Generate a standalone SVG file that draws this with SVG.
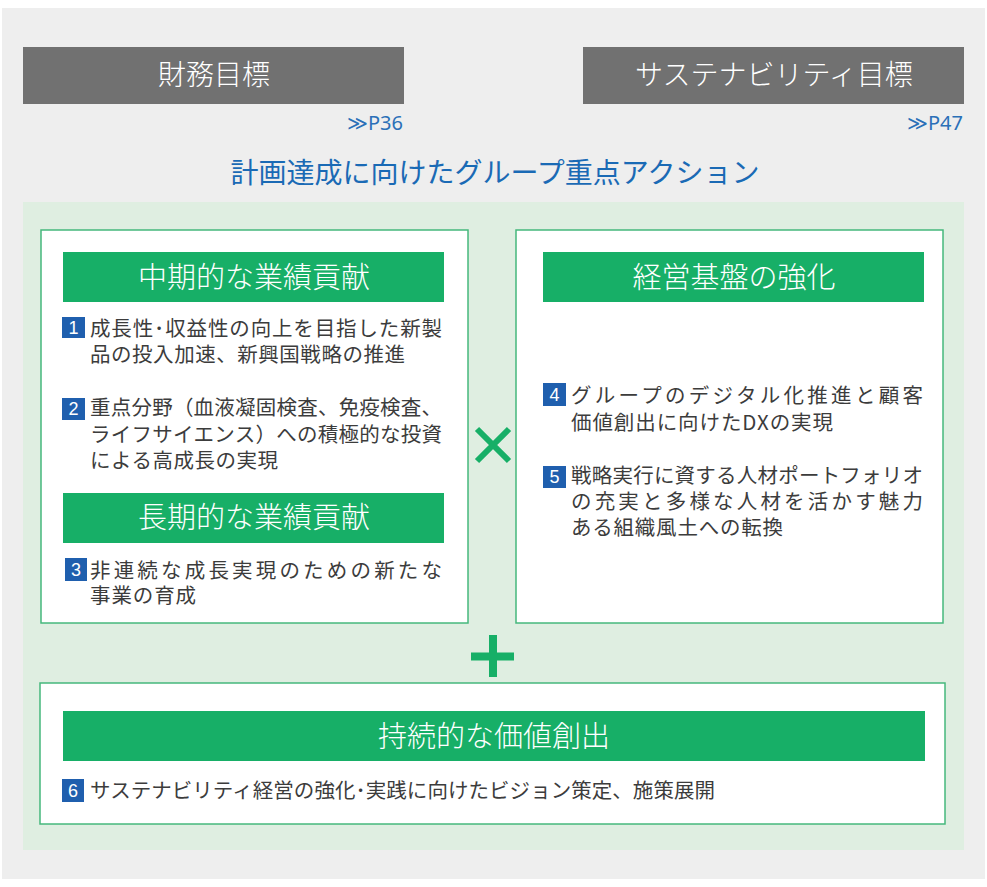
<svg xmlns="http://www.w3.org/2000/svg" width="987" height="887" viewBox="0 0 987 887">
<style>
.jp{font-family:"Noto Sans CJK JP","Noto Sans CJK SC",sans-serif}
.gbox{fill:#717171}
.gtxt{fill:#ffffff;font-size:28px;text-anchor:middle;font-weight:300}
.link{fill:#2a70b8;font-size:20px;text-anchor:end;font-family:"Noto Sans","Liberation Sans",sans-serif}
.card{fill:#ffffff;stroke:#46b87c;stroke-width:1.5}
.hdr{fill:#17af67}
.htxt{fill:#ffffff;font-size:29px;text-anchor:middle;font-weight:300}
.body{fill:#3c3c3c;font-size:20.5px}
.num{fill:#1f5fae}
.ntxt{fill:#ffffff;font-size:18px;text-anchor:middle;font-family:"Liberation Sans",sans-serif}
.sym{stroke:#17af67;fill:none}
</style>
<rect x="2" y="8" width="983" height="871" fill="#eeeeee"/>
<g id="financial">
<rect class="gbox" x="23" y="47" width="381" height="57"/>
<text class="gtxt jp" x="214" y="85">財務目標</text>
<text class="link" x="403" y="130">≫P36</text>
</g>
<g id="sustainability">
<rect class="gbox" x="583" y="47" width="381" height="57"/>
<text class="gtxt jp" x="774" y="85">サステナビリティ目標</text>
<text class="link" x="963" y="130">≫P47</text>
</g>
<text class="jp" x="495" y="183" fill="#1a6ab5" font-size="28" text-anchor="middle">計画達成に向けたグループ重点アクション</text>
<rect x="23" y="202" width="941" height="648" fill="#dfeee1"/>
<g id="performance">
<rect class="card" x="41" y="230" width="427" height="393"/>
<rect class="hdr" x="63" y="252" width="381" height="50"/>
<text class="htxt jp" x="254" y="288">中期的な業績貢献</text>
<rect class="num" x="62" y="317" width="23" height="21"/>
<text class="ntxt" x="73.5" y="334">1</text>
<text class="body jp" x="90" y="336" textLength="352">成長性･収益性の向上を目指した新製</text>
<text class="body jp" x="90" y="362" textLength="315">品の投入加速、新興国戦略の推進</text>
<rect class="num" x="62" y="398" width="23" height="22"/>
<text class="ntxt" x="73.5" y="415">2</text>
<text class="body jp" x="90" y="415" textLength="352">重点分野（血液凝固検査、免疫検査、</text>
<text class="body jp" x="90" y="442" textLength="352">ライフサイエンス）への積極的な投資</text>
<text class="body jp" x="90" y="468" textLength="188">による高成長の実現</text>
<rect class="hdr" x="63" y="493" width="381" height="50"/>
<text class="htxt jp" x="254" y="528">長期的な業績貢献</text>
<rect class="num" x="65" y="558" width="22" height="23"/>
<text class="ntxt" x="76" y="576">3</text>
<text class="body jp" x="90" y="578" textLength="352">非連続な成長実現のための新たな</text>
<text class="body jp" x="90" y="603" textLength="106">事業の育成</text>
</g>
<g id="foundation">
<rect class="card" x="516" y="230" width="427" height="393"/>
<rect class="hdr" x="543" y="252" width="381" height="50"/>
<text class="htxt jp" x="734" y="288">経営基盤の強化</text>
<rect class="num" x="543" y="383" width="23" height="23"/>
<text class="ntxt" x="554.5" y="401">4</text>
<text class="body jp" x="571" y="403" textLength="352">グループのデジタル化推進と顧客</text>
<text class="body jp" x="571" y="430" textLength="262">価値創出に向けたDXの実現</text>
<rect class="num" x="543" y="466" width="23" height="22"/>
<text class="ntxt" x="554.5" y="483">5</text>
<text class="body jp" x="571" y="483" textLength="352">戦略実行に資する人材ポートフォリオ</text>
<text class="body jp" x="571" y="509" textLength="352">の充実と多様な人材を活かす魅力</text>
<text class="body jp" x="571" y="535" textLength="212">ある組織風土への転換</text>
</g>
<g id="connectors">
<path class="sym" stroke-width="6" d="M477 429 L509 461 M509 429 L477 461"/>
<path class="sym" stroke-width="8" d="M493 635 L493 677 M471 656.5 L514 656.5"/>
</g>
<g id="value">
<rect class="card" x="40" y="683" width="905" height="141"/>
<rect class="hdr" x="63" y="711" width="862" height="50"/>
<text class="htxt jp" x="494" y="747">持続的な価値創出</text>
<rect class="num" x="62" y="779" width="22" height="23"/>
<text class="ntxt" x="73" y="797">6</text>
<text class="body jp" x="90" y="798" textLength="625">サステナビリティ経営の強化･実践に向けたビジョン策定、施策展開</text>
</g>
</svg>
